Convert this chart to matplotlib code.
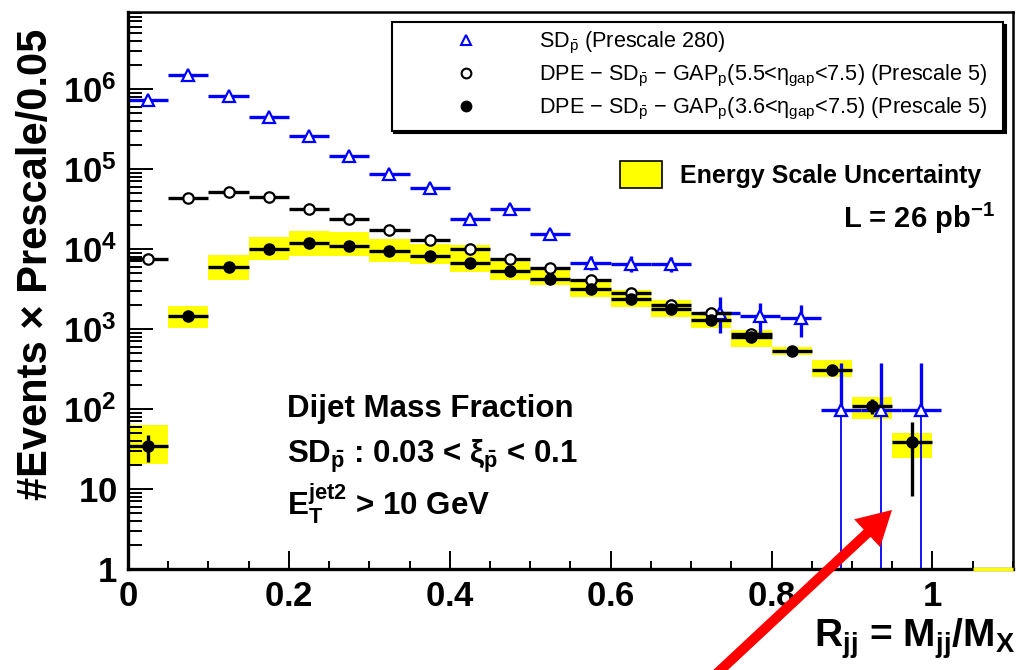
import math
import matplotlib
matplotlib.use("Agg")
import matplotlib.pyplot as plt
from matplotlib.lines import Line2D
from matplotlib.patches import Patch, FancyArrow
from matplotlib.ticker import LogLocator, MultipleLocator, FuncFormatter, NullFormatter
from matplotlib.transforms import IdentityTransform

plt.rcParams['font.family'] = ['Liberation Sans', 'DejaVu Sans']
plt.rcParams['mathtext.fontset'] = 'custom'
plt.rcParams['mathtext.rm'] = 'Liberation Sans'
plt.rcParams['mathtext.it'] = 'Liberation Sans'
plt.rcParams['mathtext.sf'] = 'Liberation Sans'
plt.rcParams['mathtext.bf'] = 'Liberation Sans:bold'

# ---- data ----
# bin centres of R_jj (bin width 0.05)
rjj = [0.025, 0.075, 0.125, 0.175, 0.225, 0.275, 0.325, 0.375, 0.425, 0.475,
       0.525, 0.575, 0.625, 0.675, 0.725, 0.775, 0.825, 0.875, 0.925, 0.975]
half_bin = 0.025

# SD_pbar (prescale 280) - high R_jj part sits slightly shifted in the original
sd_x = [0.025, 0.075, 0.125, 0.175, 0.225, 0.275, 0.325, 0.375, 0.425, 0.475,
        0.525, 0.575, 0.625, 0.675, 0.736, 0.786, 0.836, 0.886, 0.936, 0.986]
sd_vals = [7.3e5, 1.47e6, 8.2e5, 4.4e5, 2.6e5, 1.45e5, 8.7e4, 5.8e4, 2.4e4, 3.2e4,
           1.55e4, 6.7e3, 6.5e3, 6.4e3, 1.6e3, 1.47e3, 1.37e3, 97, 97, 97]
sd_err_up = [2e4, 3e4, 2e4, 1.5e4, 1e4, 8e3, 6e3, 5e3, 3e3, 3.5e3,
             2.5e3, 1.5e3, 1.7e3, 1.6e3, 900, 650, 630, 279, 279, 279]
sd_err_dn = [2e4, 3e4, 2e4, 1.5e4, 1e4, 8e3, 6e3, 5e3, 3e3, 3.5e3,
             2.5e3, 1.2e3, 1.4e3, 1.3e3, 710, 630, 580, 96.99, 96.99, 96.99]
n_single = 3   # last bins with a single (prescaled) event: error reaches zero

# DPE - SD - GAP (5.5 < eta_gap < 7.5), prescale 5
gap55_x = rjj[:16]
gap55_vals = [7.5e3, 4.35e4, 5.2e4, 4.4e4, 3.2e4, 2.4e4, 1.7e4, 1.3e4, 1.0e4, 7.5e3,
              5.8e3, 4.1e3, 2.8e3, 2.0e3, 1.6e3, 870]
gap55_err = [400, 1000, 1100, 1000, 800, 700, 600, 500, 450, 400,
             350, 300, 250, 200, 180, 130]

# DPE - SD - GAP (3.6 < eta_gap < 7.5), prescale 5
gap36_vals = [34.6, 1450, 6000, 1.0e4, 1.18e4, 1.1e4, 9.5e3, 8.1e3, 6.6e3, 5.3e3,
              4.2e3, 3.2e3, 2.4e3, 1.8e3, 1.3e3, 790, 530, 310, 109, 39]
gap36_err_up = [12.4, 85, 170, 220, 240, 230, 220, 200, 180, 160,
                145, 130, 110, 95, 80, 63, 52, 40, 23, 30]
gap36_err_dn = [12.8, 85, 170, 220, 240, 230, 220, 200, 180, 160,
                145, 130, 110, 95, 80, 63, 52, 40, 23, 30.8]

# energy scale uncertainty band (low / high edge)
esu_lo = [20.5, 1020, 4100, 7250, 8150, 8150, 6900, 6500, 5200, 4100,
          3550, 2520, 1900, 1420, 1020, 600, 473, 254, 76, 24.3]
esu_hi = [63, 1950, 8400, 14250, 16900, 16200, 13300, 11500, 11200, 7600,
          5750, 4100, 3080, 2300, 1580, 975, 600, 410, 142, 50.5]
empty_bin = [1.05, 1.10]

legend_labels = [
    r'SD$_{\bar{p}}$ (Prescale 280)',
    r'DPE $-$ SD$_{\bar{p}}$ $-$ GAP$_{p}$(5.5<$\eta_{gap}$<7.5) (Prescale 5)',
    r'DPE $-$ SD$_{\bar{p}}$ $-$ GAP$_{p}$(3.6<$\eta_{gap}$<7.5) (Prescale 5)',
]

fig = plt.figure(figsize=(10.19, 6.70), dpi=100)
ax = fig.add_axes([0.1256, 0.1507, 0.8684, 0.8313])

ax.set_yscale('log')
ax.set_xlim(0, 1.1)
ax.set_ylim(1, 10 ** 6.96)

# yellow energy scale boxes
heights = [h - l for h, l in zip(esu_hi, esu_lo)]
ax.bar(rjj, heights, bottom=esu_lo, width=2 * half_bin, color='#ffff00',
       linewidth=0, zorder=1)
ax.hlines(1.0, empty_bin[0], empty_bin[1], color='#ffff00', lw=2.5, zorder=6,
          clip_on=False)

# SD: thick bars, except the lower error of the single-event bins (thin line)
k = len(sd_vals) - n_single
dn_thick = sd_err_dn[:k] + [0] * n_single
ax.errorbar(sd_x, sd_vals, xerr=half_bin, yerr=[dn_thick, sd_err_up], fmt='^',
            color='#0000ff', mfc='white', mec='#0000ff', ms=8, mew=1.6,
            elinewidth=2.4, capsize=0, zorder=2)
ax.vlines(sd_x[k:], [v - e for v, e in zip(sd_vals[k:], sd_err_dn[k:])],
          sd_vals[k:], color='#0000ff', lw=1.3, zorder=2)

ax.errorbar(gap55_x, gap55_vals, xerr=half_bin, yerr=gap55_err, fmt='o',
            color='k', mfc='white', mec='k', ms=7.5, mew=1.6,
            elinewidth=2.4, capsize=0, zorder=3)
ax.errorbar(rjj, gap36_vals, xerr=half_bin, yerr=[gap36_err_dn, gap36_err_up],
            fmt='o', color='k', ms=8, elinewidth=2.4, capsize=0, zorder=4)

# axes styling (ROOT look)
for side in ['left', 'bottom']:
    ax.spines[side].set_linewidth(2.4)
for side in ['top', 'right']:
    ax.spines[side].set_linewidth(1.8)

ax.yaxis.set_major_locator(LogLocator(base=10, numticks=10))
ax.yaxis.set_minor_locator(LogLocator(base=10, subs=range(2, 10), numticks=20))
ax.yaxis.set_minor_formatter(NullFormatter())


def ylab(v, pos):
    if v < 1.5:
        return r'$\mathbf{1}$'
    if v < 15:
        return r'$\mathbf{10}$'
    return r'$\mathbf{10^{%d}}$' % round(math.log10(v))


def xlab(v, pos):
    s = ('%.1f' % v).rstrip('0').rstrip('.') if v else '0'
    return r'$\mathbf{%s}$' % s


ax.yaxis.set_major_formatter(FuncFormatter(ylab))
ax.xaxis.set_major_locator(MultipleLocator(0.2))
ax.xaxis.set_minor_locator(MultipleLocator(0.05))
ax.xaxis.set_major_formatter(FuncFormatter(xlab))

ax.tick_params(axis='y', which='major', direction='in', length=18, width=1.4,
               labelsize=25, pad=8, right=False)
ax.tick_params(axis='y', which='minor', direction='in', length=10, width=1.4,
               right=False)
ax.tick_params(axis='x', which='major', direction='in', length=13, width=1.4,
               labelsize=25, pad=8, top=False)
ax.tick_params(axis='x', which='minor', direction='in', length=6, width=1.4,
               top=False)

fig.text(0.035, 0.606, '#Events \u00d7 Prescale/0.05', fontweight='bold',
         rotation=90, ha='center', va='center', fontsize=30)
fig.text(0.996, 0.035, r'R$_{\mathbf{jj}}$ = M$_{\mathbf{jj}}$/M$_{\mathbf{X}}$',
         ha='right', va='baseline', fontsize=28, fontweight='bold')

# legends
handles = [
    Line2D([], [], ls='none', marker='^', mfc='white', mec='#0000ff', ms=7, mew=1.5),
    Line2D([], [], ls='none', marker='o', mfc='white', mec='k', ms=7, mew=1.5),
    Line2D([], [], ls='none', marker='o', color='k', ms=7.5),
]
leg = ax.legend(handles, legend_labels, loc='upper left',
                bbox_to_anchor=(0.298, 0.792, 0.691, 0.19), mode='expand',
                fontsize=15.6, handlelength=6.1, handletextpad=0.3, borderpad=0.38,
                labelspacing=0.32, borderaxespad=0, fancybox=False, edgecolor='k',
                framealpha=1, shadow={'color': 'k', 'alpha': 1})
leg.get_frame().set_linewidth(1.5)
ax.add_artist(leg)

leg2 = ax.legend([Patch(facecolor='#ffff00', edgecolor='k', lw=1.2)],
                 ['Energy Scale Uncertainty'], loc='upper left',
                 bbox_to_anchor=(0.556, 0.733), frameon=False, borderpad=0,
                 borderaxespad=0, handlelength=1.7, handleheight=1.3,
                 handletextpad=0.7, prop={'weight': 'bold', 'size': 18})

ax.text(0.98, 0.63, r'L = 26 pb$^{\mathbf{-1}}$', transform=ax.transAxes,
        ha='right', va='center', fontsize=21, fontweight='bold')

ax.text(0.180, 0.273, 'Dijet Mass Fraction', transform=ax.transAxes,
        fontsize=22.5, fontweight='bold', va='baseline')
ax.text(0.180, 0.190,
        'SD$_{\\mathbf{\\bar{p}}}$ : 0.03 < \u03be$_{\\mathbf{\\bar{p}}}$ < 0.1',
        transform=ax.transAxes, fontsize=22.5, fontweight='bold', va='baseline')
ax.text(0.180, 0.097, r'E$_{\mathbf{T}}^{\mathbf{jet2}}$ > 10 GeV',
        transform=ax.transAxes, fontsize=22.5, fontweight='bold', va='baseline')

# red arrow drawn on top of the figure
arrow = FancyArrow(712, -8, 180, 168, width=10, head_width=38, head_length=34,
                   length_includes_head=True, color='#ff0000', lw=0,
                   transform=IdentityTransform())
fig.add_artist(arrow)

fig.savefig('out.png', dpi=100)
